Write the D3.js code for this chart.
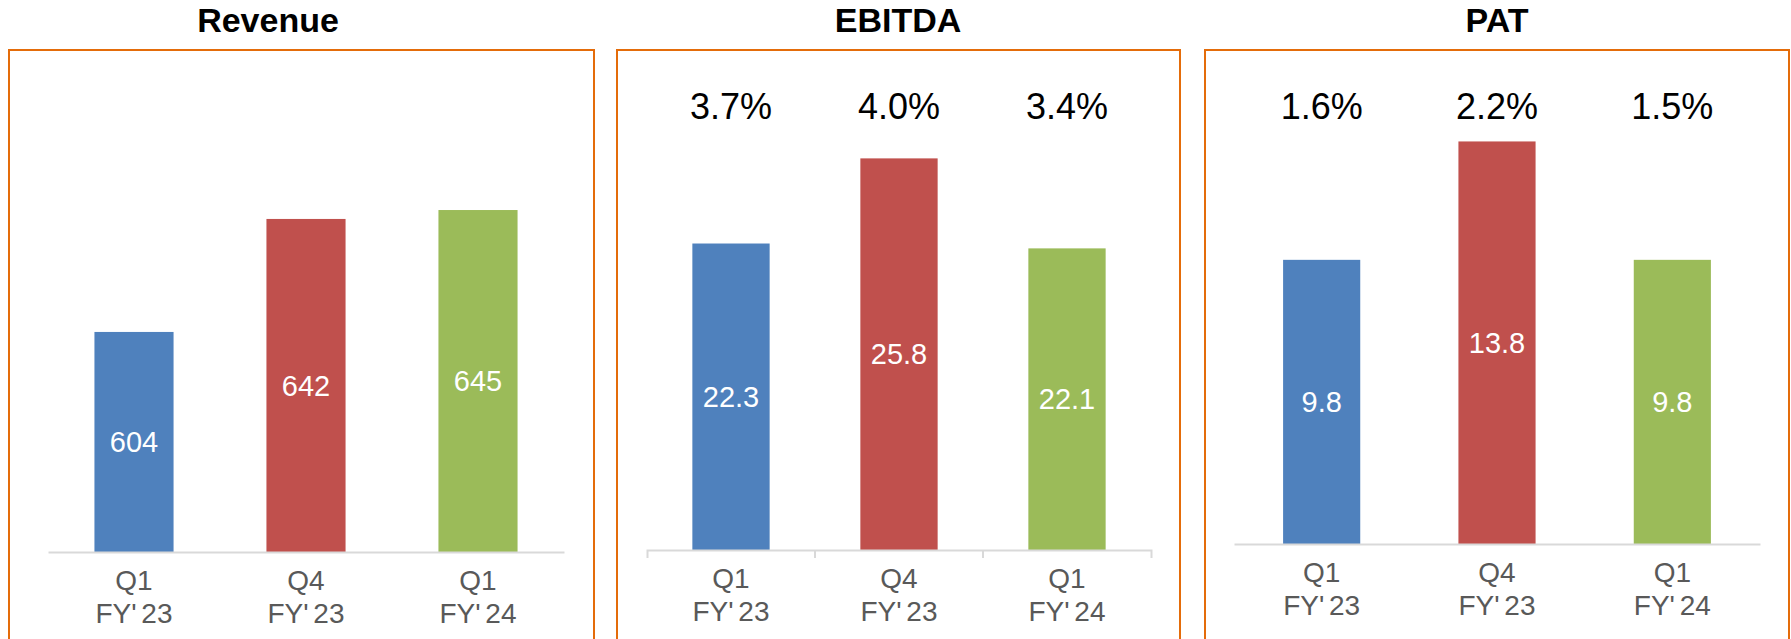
<!DOCTYPE html>
<html>
<head>
<meta charset="utf-8">
<script src="https://cdn.jsdelivr.net/npm/d3@7"></script>
<style>
  html, body { margin: 0; padding: 0; background: #fff; }
  svg { display: block; font-family: "Liberation Sans", Arial, sans-serif; }
</style>
</head>
<body>
<svg id="chart" width="1791" height="639"></svg>
<script>
// data
const categories = [["Q1", "FY' 23"], ["Q4", "FY' 23"], ["Q1", "FY' 24"]];
const revenue = [604, 642, 645];
const ebitda = [22.3, 25.8, 22.1];
const pat = [9.8, 13.8, 9.8];
const ebitdaMargin = ["3.7%", "4.0%", "3.4%"];
const patMargin = ["1.6%", "2.2%", "1.5%"];
const barColors = ["#4F81BD", "#C0504D", "#9BBB59"];

// panel layout (value axes don't start at zero on the slide)
const panels = [
  { title: "Revenue", values: revenue, margins: null, yDomain: [530, 682],
    frame: [9, 50, 585], titleX: 268, xRange: [48, 564], axisY: 552, pad: 0.54, ticks: false },
  { title: "EBITDA", values: ebitda, margins: ebitdaMargin, yDomain: [9.7, 28.2],
    frame: [617, 50, 563], titleX: 898, xRange: [647, 1151], axisY: 550, pad: 0.54, ticks: true },
  { title: "PAT", values: pat, margins: patMargin, yDomain: [0.2, 15.2],
    frame: [1205, 50, 584], titleX: 1497, xRange: [1234, 1760], axisY: 544, pad: 0.56, ticks: false }
];

const svg = d3.select("#chart");

panels.forEach(p => {
  const g = svg.append("g");

  // orange frame, runs off the bottom of the slide
  g.append("rect")
    .attr("x", p.frame[0]).attr("y", p.frame[1])
    .attr("width", p.frame[2]).attr("height", 700)
    .attr("fill", "none")
    .attr("stroke", "#E46C0A")
    .attr("stroke-width", 2);

  g.append("text")
    .attr("x", p.titleX).attr("y", 32)
    .attr("text-anchor", "middle")
    .attr("font-size", 34)
    .attr("font-weight", "bold")
    .attr("fill", "#000")
    .text(p.title);

  const x = d3.scaleBand()
    .domain(d3.range(p.values.length))
    .range(p.xRange)
    .paddingInner(p.pad)
    .paddingOuter(p.pad / 2);

  const y = d3.scaleLinear()
    .domain(p.yDomain)
    .range([p.axisY, 100]);

  g.selectAll(".bar")
    .data(p.values)
    .join("rect")
    .attr("class", "bar")
    .attr("x", (d, i) => x(i))
    .attr("y", d => y(d))
    .attr("width", x.bandwidth())
    .attr("height", d => p.axisY - y(d))
    .attr("fill", (d, i) => barColors[i]);

  g.selectAll(".val")
    .data(p.values)
    .join("text")
    .attr("class", "val")
    .attr("x", (d, i) => x(i) + x.bandwidth() / 2)
    .attr("y", d => (y(d) + p.axisY) / 2)
    .attr("dy", "0.35em")
    .attr("text-anchor", "middle")
    .attr("font-size", 29)
    .attr("fill", "#fff")
    .text(d => d.toFixed(p.title === "Revenue" ? 0 : 1));

  if (p.margins) {
    g.selectAll(".pct")
      .data(p.margins)
      .join("text")
      .attr("class", "pct")
      .attr("x", (d, i) => x(i) + x.bandwidth() / 2)
      .attr("y", 106)
      .attr("dy", "0.35em")
      .attr("text-anchor", "middle")
      .attr("font-size", 36)
      .attr("fill", "#000")
      .text(d => d);
  }

  // category axis
  const axis = g.append("g")
    .attr("transform", `translate(0,${p.axisY})`)
    .call(d3.axisBottom(x).tickSize(0).tickSizeOuter(p.ticks ? 8 : 0).tickPadding(0));

  axis.select(".domain")
    .attr("stroke", "#D9D9D9")
    .attr("stroke-width", 2);

  axis.selectAll(".tick text")
    .attr("fill", "#595959")
    .attr("font-size", 28)
    .attr("font-family", null)
    .attr("word-spacing", "-3px")
    .text(null)
    .each(function(i) {
      const t = d3.select(this);
      categories[i].forEach((line, k) => {
        t.append("tspan")
          .attr("x", 0)
          .attr("y", 28 + k * 33)
          .attr("dy", "0.35em")
          .text(line);
      });
    });

  if (p.ticks) {
    // boundary ticks between categories
    axis.selectAll(".sep")
      .data(d3.range(1, p.values.length))
      .join("line")
      .attr("class", "sep")
      .attr("x1", i => p.xRange[0] + i * x.step())
      .attr("x2", i => p.xRange[0] + i * x.step())
      .attr("y1", 0).attr("y2", 8)
      .attr("stroke", "#D9D9D9")
      .attr("stroke-width", 2);
  }
});
</script>
</body>
</html>
